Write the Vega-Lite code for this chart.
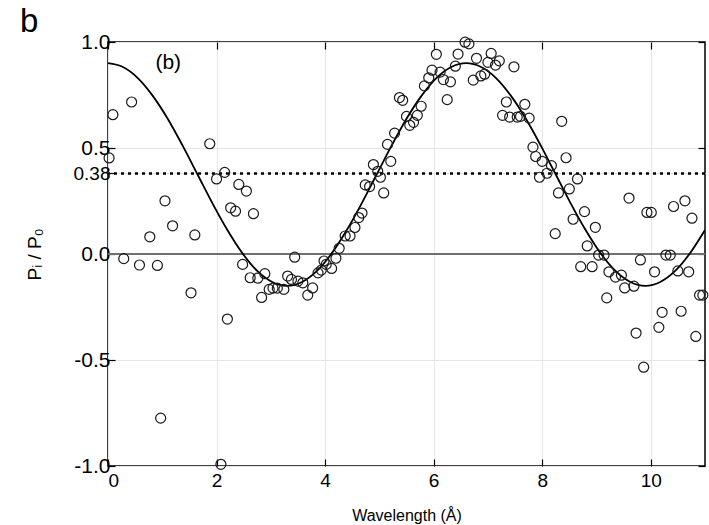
{
  "$schema": "https://vega.github.io/schema/vega-lite/v6.json",
  "width": 597,
  "height": 424,
  "autosize": {"type": "none"},
  "padding": {"left": 108, "top": 42, "right": 4, "bottom": 59},
  "background": "white",
  "config": {
    "view": {"stroke": "black", "strokeWidth": 1.5},
    "font": "Liberation Sans"
  },
  "title": {
    "text": "b",
    "anchor": "start",
    "frame": "group",
    "orient": "top",
    "offset": 6,
    "baseline": "alphabetic",
    "dx": -88,
    "dy": 40,
    "fontSize": 33,
    "fontWeight": "normal",
    "font": "Liberation Sans",
    "color": "black"
  },
  "datasets": {
    "points": [
      {"x": 0.02, "y": 0.453}, {"x": 0.09, "y": 0.657}, {"x": 0.435, "y": 0.717}, {"x": 0.29, "y": -0.022},
      {"x": 0.58, "y": -0.052}, {"x": 0.77, "y": 0.081}, {"x": 0.91, "y": -0.054}, {"x": 0.97, "y": -0.774},
      {"x": 1.05, "y": 0.251}, {"x": 1.19, "y": 0.133}, {"x": 1.53, "y": -0.183}, {"x": 1.6, "y": 0.09},
      {"x": 1.875, "y": 0.52}, {"x": 2.0, "y": 0.354}, {"x": 2.15, "y": 0.385}, {"x": 2.08, "y": -0.992},
      {"x": 2.2, "y": -0.307}, {"x": 2.26, "y": 0.218}, {"x": 2.35, "y": 0.202}, {"x": 2.41, "y": 0.328},
      {"x": 2.55, "y": 0.297}, {"x": 2.68, "y": 0.19}, {"x": 2.48, "y": -0.049}, {"x": 2.62, "y": -0.112},
      {"x": 2.76, "y": -0.114}, {"x": 2.89, "y": -0.093}, {"x": 2.83, "y": -0.205}, {"x": 2.97, "y": -0.167},
      {"x": 3.04, "y": -0.161}, {"x": 3.12, "y": -0.161}, {"x": 3.24, "y": -0.167}, {"x": 3.31, "y": -0.104},
      {"x": 3.38, "y": -0.12}, {"x": 3.5, "y": -0.128}, {"x": 3.44, "y": -0.015}, {"x": 3.59, "y": -0.136},
      {"x": 3.68, "y": -0.194}, {"x": 3.77, "y": -0.16}, {"x": 3.87, "y": -0.089}, {"x": 3.93, "y": -0.076},
      {"x": 3.98, "y": -0.033}, {"x": 4.02, "y": -0.049}, {"x": 4.12, "y": -0.068}, {"x": 4.2, "y": -0.02},
      {"x": 4.26, "y": 0.027}, {"x": 4.37, "y": 0.085}, {"x": 4.46, "y": 0.085}, {"x": 4.55, "y": 0.125},
      {"x": 4.62, "y": 0.172}, {"x": 4.68, "y": 0.193}, {"x": 4.74, "y": 0.326}, {"x": 4.82, "y": 0.318},
      {"x": 4.89, "y": 0.422}, {"x": 4.97, "y": 0.39}, {"x": 5.02, "y": 0.362}, {"x": 5.08, "y": 0.288},
      {"x": 5.21, "y": 0.437}, {"x": 5.15, "y": 0.517}, {"x": 5.28, "y": 0.57}, {"x": 5.37, "y": 0.738},
      {"x": 5.43, "y": 0.725}, {"x": 5.5, "y": 0.649}, {"x": 5.56, "y": 0.607}, {"x": 5.63, "y": 0.621},
      {"x": 5.7, "y": 0.654}, {"x": 5.77, "y": 0.697}, {"x": 5.83, "y": 0.793}, {"x": 5.91, "y": 0.831},
      {"x": 5.97, "y": 0.867}, {"x": 6.05, "y": 0.942}, {"x": 6.12, "y": 0.858}, {"x": 6.18, "y": 0.823},
      {"x": 6.25, "y": 0.728}, {"x": 6.31, "y": 0.812}, {"x": 6.4, "y": 0.886}, {"x": 6.45, "y": 0.943},
      {"x": 6.58, "y": 0.999}, {"x": 6.65, "y": 0.991}, {"x": 6.73, "y": 0.82}, {"x": 6.79, "y": 0.923},
      {"x": 6.87, "y": 0.84}, {"x": 6.94, "y": 0.848}, {"x": 7.0, "y": 0.904}, {"x": 7.06, "y": 0.946},
      {"x": 7.14, "y": 0.891}, {"x": 7.21, "y": 0.911}, {"x": 7.27, "y": 0.654}, {"x": 7.34, "y": 0.717},
      {"x": 7.4, "y": 0.646}, {"x": 7.48, "y": 0.883}, {"x": 7.54, "y": 0.646}, {"x": 7.6, "y": 0.649},
      {"x": 7.68, "y": 0.706}, {"x": 7.76, "y": 0.641}, {"x": 7.83, "y": 0.504}, {"x": 7.88, "y": 0.46},
      {"x": 7.95, "y": 0.362}, {"x": 8.0, "y": 0.437}, {"x": 8.09, "y": 0.381}, {"x": 8.17, "y": 0.417},
      {"x": 8.24, "y": 0.096}, {"x": 8.3, "y": 0.288}, {"x": 8.36, "y": 0.626}, {"x": 8.44, "y": 0.454},
      {"x": 8.5, "y": 0.307}, {"x": 8.57, "y": 0.164}, {"x": 8.65, "y": 0.354}, {"x": 8.71, "y": -0.06},
      {"x": 8.78, "y": 0.2}, {"x": 8.83, "y": 0.038}, {"x": 8.92, "y": -0.06}, {"x": 8.98, "y": 0.126},
      {"x": 9.04, "y": -0.005}, {"x": 9.14, "y": -0.005}, {"x": 9.19, "y": -0.207}, {"x": 9.23, "y": -0.084},
      {"x": 9.35, "y": -0.109}, {"x": 9.46, "y": -0.1}, {"x": 9.52, "y": -0.16}, {"x": 9.6, "y": 0.264},
      {"x": 9.69, "y": -0.152}, {"x": 9.73, "y": -0.373}, {"x": 9.81, "y": -0.028}, {"x": 9.87, "y": -0.534},
      {"x": 9.93, "y": 0.196}, {"x": 10.01, "y": 0.196}, {"x": 10.07, "y": -0.084}, {"x": 10.15, "y": -0.346},
      {"x": 10.21, "y": -0.275}, {"x": 10.28, "y": -0.005}, {"x": 10.36, "y": -0.005}, {"x": 10.42, "y": 0.224},
      {"x": 10.5, "y": -0.08}, {"x": 10.56, "y": -0.27}, {"x": 10.63, "y": 0.251}, {"x": 10.7, "y": -0.084},
      {"x": 10.76, "y": 0.169}, {"x": 10.83, "y": -0.389}, {"x": 10.9, "y": -0.194}, {"x": 10.96, "y": -0.194}
    ],
    "curve": [
      {"x": 0, "y": 0.9}, {"x": 0.275, "y": 0.882}, {"x": 0.55, "y": 0.83}, {"x": 0.825, "y": 0.746},
      {"x": 1.1, "y": 0.638}, {"x": 1.375, "y": 0.511}, {"x": 1.65, "y": 0.375}, {"x": 1.925, "y": 0.239},
      {"x": 2.2, "y": 0.113}, {"x": 2.475, "y": 0.004}, {"x": 2.75, "y": -0.08}, {"x": 3.025, "y": -0.132},
      {"x": 3.3, "y": -0.15}, {"x": 3.575, "y": -0.132}, {"x": 3.85, "y": -0.08}, {"x": 4.125, "y": 0.004},
      {"x": 4.4, "y": 0.113}, {"x": 4.675, "y": 0.239}, {"x": 4.95, "y": 0.375}, {"x": 5.225, "y": 0.511},
      {"x": 5.5, "y": 0.638}, {"x": 5.775, "y": 0.746}, {"x": 6.05, "y": 0.83}, {"x": 6.325, "y": 0.882},
      {"x": 6.6, "y": 0.9}, {"x": 6.875, "y": 0.882}, {"x": 7.15, "y": 0.83}, {"x": 7.425, "y": 0.746},
      {"x": 7.7, "y": 0.638}, {"x": 7.975, "y": 0.511}, {"x": 8.25, "y": 0.375}, {"x": 8.525, "y": 0.239},
      {"x": 8.8, "y": 0.113}, {"x": 9.075, "y": 0.004}, {"x": 9.35, "y": -0.08}, {"x": 9.625, "y": -0.132},
      {"x": 9.9, "y": -0.15}, {"x": 10.175, "y": -0.132}, {"x": 10.45, "y": -0.08}, {"x": 10.725, "y": 0.004},
      {"x": 11.0, "y": 0.113}
    ]
  },
  "layer": [
    {
      "data": {"values": [{"y": 0}]},
      "mark": {"type": "rule", "color": "#707070", "strokeWidth": 2},
      "encoding": {
        "y": {"field": "y", "type": "quantitative", "scale": {"domain": [-1, 1], "nice": false}, "axis": null}
      }
    },
    {
      "data": {"values": [{"y": 0.38}]},
      "mark": {"type": "rule", "color": "black", "strokeWidth": 2.5, "strokeDash": [3, 4]},
      "encoding": {
        "y": {"field": "y", "type": "quantitative", "scale": {"domain": [-1, 1], "nice": false}, "axis": null}
      }
    },
    {
      "data": {"name": "curve"},
      "mark": {"type": "line", "color": "black", "strokeWidth": 1.8, "interpolate": "monotone", "clip": true},
      "encoding": {
        "x": {"field": "x", "type": "quantitative", "scale": {"domain": [0, 11], "nice": false, "zero": false},
          "axis": {"orient": "top", "values": [0, 2, 4, 6, 8, 10], "labels": false, "tickSize": -7, "tickColor": "black", "tickWidth": 1.2, "domain": false, "grid": false, "title": null}},
        "y": {"field": "y", "type": "quantitative", "scale": {"domain": [-1, 1], "nice": false},
          "axis": {"orient": "right", "values": [-1, -0.5, 0, 0.5, 1], "labels": false, "tickSize": -7, "tickColor": "black", "tickWidth": 1.2, "domain": false, "grid": false, "title": null}}
      }
    },
    {
      "data": {"name": "points"},
      "mark": {"type": "point", "shape": "circle", "filled": false, "size": 100, "stroke": "#1a1a1a", "strokeWidth": 1.2, "opacity": 1},
      "encoding": {
        "x": {"field": "x", "type": "quantitative", "scale": {"domain": [0, 11], "nice": false, "zero": false},
          "axis": {"orient": "bottom", "values": [0, 2, 4, 6, 8, 10], "tickSize": -7, "tickColor": "black", "tickWidth": 1.2, "domain": false,
            "labelFontSize": 19, "labelPadding": 12, "labelColor": "black", "labelFont": "Liberation Sans",
            "grid": true, "gridColor": "#e6e6e6", "gridWidth": 1,
            "title": "Wavelength (Å)", "titleFontSize": 16, "titleFontWeight": "normal", "titleFont": "Liberation Sans", "titleColor": "black",
            "titleY": 54, "titleBaseline": "alphabetic"}},
        "y": {"field": "y", "type": "quantitative", "scale": {"domain": [-1, 1], "nice": false},
          "axis": {"orient": "left", "values": [-1, -0.5, 0, 0.38, 0.5, 1], "tickSize": -7, "tickColor": "black", "tickWidth": 1.2, "domain": false,
            "labelExpr": "datum.value == 0.38 ? '0.38' : (datum.value < 0 ? '-' : '') + format(abs(datum.value), '.1f')",
            "labelFontSize": {"condition": {"test": "datum.value == 0.38", "value": 19}, "value": 21},
            "labelPadding": 5, "labelColor": "black", "labelFont": "Liberation Sans",
            "grid": true, "gridColor": "#e6e6e6", "gridWidth": 1,
            "title": "Pᵢ / P₀", "titleFontSize": 19, "titleFontWeight": "normal", "titleFont": "Liberation Sans", "titleColor": "black",
            "titleX": -68, "titleY": 212, "titleBaseline": "alphabetic", "titleAngle": -90}}
      }
    },
    {
      "data": {"values": [{"x": 1.11, "y": 0.9, "label": "(b)"}]},
      "mark": {"type": "text", "fontSize": 21, "font": "Liberation Sans", "color": "black", "baseline": "middle", "align": "center"},
      "encoding": {
        "x": {"field": "x", "type": "quantitative", "scale": {"domain": [0, 11], "nice": false, "zero": false}, "axis": null},
        "y": {"field": "y", "type": "quantitative", "scale": {"domain": [-1, 1], "nice": false}, "axis": null},
        "text": {"field": "label"}
      }
    }
  ],
  "resolve": {"axis": {"x": "independent", "y": "independent"}}
}
